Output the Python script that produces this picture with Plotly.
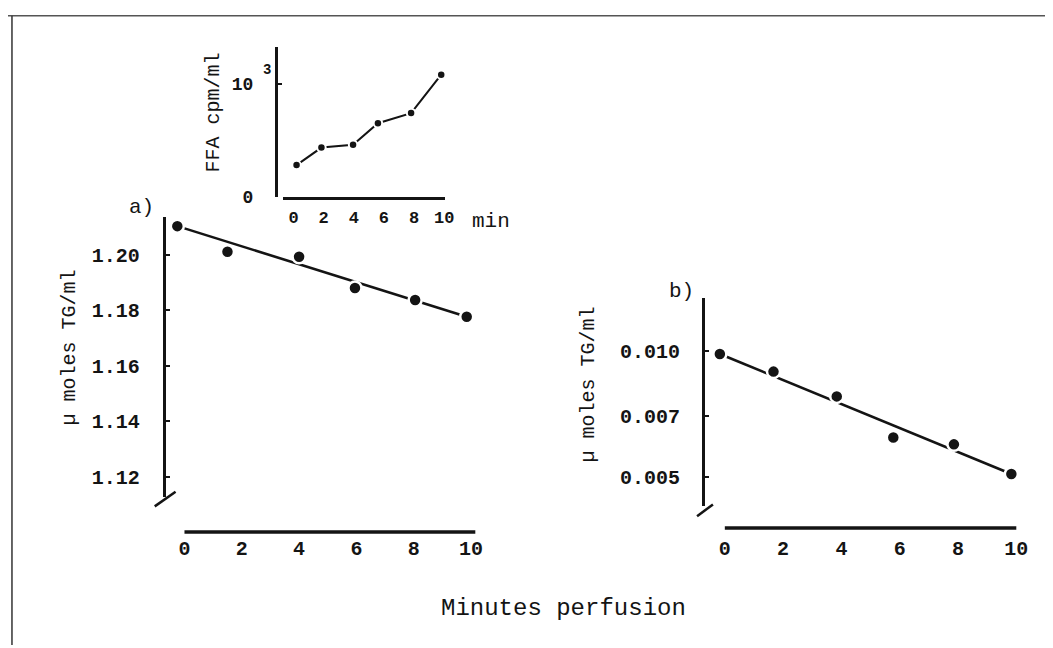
import plotly.graph_objects as go

# ---------------- data ----------------
# panel a) TG (µmoles/ml) vs minutes perfusion
a_minutes = [-0.25, 1.5, 4.0, 5.95, 8.05, 9.85]
a_tg = [1.2103, 1.2011, 1.1993, 1.1880, 1.1837, 1.1777]
a_fit_minutes = [-0.25, 9.85]
a_fit_tg = [1.2103, 1.1777]
a_yticks = [1.12, 1.14, 1.16, 1.18, 1.20]

# panel b) TG (µmoles/ml) vs minutes perfusion (log scale)
b_minutes = [-0.17, 1.67, 3.84, 5.78, 7.86, 9.83]
b_tg = [0.00984, 0.00893, 0.00779, 0.00621, 0.00598, 0.00508]
b_fit_minutes = [-0.17, 9.83]
b_fit_tg = [0.00984, 0.00508]
b_yticks = [0.005, 0.007, 0.010]

# inset: FFA cpm/ml (x10^3) vs min
ffa_minutes = [0.2, 1.85, 3.95, 5.6, 7.8, 9.8]
ffa_cpm = [2.8, 4.35, 4.6, 6.5, 7.4, 10.8]
ffa_yticks = [0, 10]

xticks = [0, 2, 4, 6, 8, 10]

# ---------------- geometry helpers ----------------
W, H = 1053, 648
def px(x):
    return x / W
def py(y):
    return 1 - y / H

def xrange_for(dom0, dom1, p0, p10):
    k = (p10 - p0) / 10.0
    return [-(p0 - dom0) / k, 10 + (dom1 - p10) / k]

INK = "#141414"
MONO = "Liberation Mono"
tick_font = dict(family=MONO, size=20, color=INK, weight="bold")

fig = go.Figure()

# panel a
fig.add_trace(go.Scatter(x=a_fit_minutes, y=a_fit_tg, mode="lines",
                         line=dict(color=INK, width=2.6), xaxis="x", yaxis="y",
                         showlegend=False, hoverinfo="skip"))
fig.add_trace(go.Scatter(x=a_minutes, y=a_tg, mode="markers",
                         marker=dict(color=INK, size=13, line=dict(color="white", width=2.5)),
                         xaxis="x", yaxis="y", showlegend=False, cliponaxis=False))
# panel b
fig.add_trace(go.Scatter(x=b_fit_minutes, y=b_fit_tg, mode="lines",
                         line=dict(color=INK, width=2.6), xaxis="x2", yaxis="y2",
                         showlegend=False, hoverinfo="skip"))
fig.add_trace(go.Scatter(x=b_minutes, y=b_tg, mode="markers",
                         marker=dict(color=INK, size=13, line=dict(color="white", width=2.5)),
                         xaxis="x2", yaxis="y2", showlegend=False, cliponaxis=False))
# inset
fig.add_trace(go.Scatter(x=ffa_minutes, y=ffa_cpm, mode="lines+markers",
                         line=dict(color=INK, width=2),
                         marker=dict(color=INK, size=8.5, line=dict(color="white", width=2)),
                         xaxis="x3", yaxis="y3", showlegend=False, cliponaxis=False))

# axis pixel layout
A_DOM = (158, 482); A_P0, A_P10 = 178, 467
B_DOM = (705, 1030); B_P0, B_P10 = 723, 1017
I_DOM = (277, 441); I_P0, I_P10 = 288, 440

a_lo = 1.12 - (497 - 477) / 2825.0
a_hi = 1.20 + (251 - 213) / 2825.0
b_k = 425.0
b_lo = -2 - (507 - 349) / b_k
b_hi = -2 + (349 - 295) / b_k

common_x = dict(showgrid=False, zeroline=False, showline=False, ticks="",
                tickvals=xticks, tickfont=tick_font, fixedrange=True)

fig.update_layout(
    width=W, height=H,
    margin=dict(l=0, r=0, t=0, b=0),
    paper_bgcolor="white", plot_bgcolor="rgba(0,0,0,0)",
    xaxis=dict(common_x, domain=[px(A_DOM[0]), px(A_DOM[1])],
               range=xrange_for(A_DOM[0], A_DOM[1], A_P0, A_P10),
               anchor="free", position=py(533), ticklabelstandoff=2),
    yaxis=dict(domain=[py(497), py(213)], range=[a_lo, a_hi],
               anchor="free", position=px(157), showline=True, linewidth=3, linecolor=INK,
               ticks="inside", ticklen=4, tickwidth=2, tickcolor=INK,
               tickvals=a_yticks, tickformat=".2f", tickfont=tick_font,
               ticklabelstandoff=19, showgrid=False, zeroline=False),
    xaxis2=dict(common_x, domain=[px(B_DOM[0]), px(B_DOM[1])],
                range=xrange_for(B_DOM[0], B_DOM[1], B_P0, B_P10),
                anchor="free", position=py(529), ticklabelstandoff=6),
    yaxis2=dict(type="log", domain=[py(507), py(295)], range=[b_lo, b_hi],
                anchor="free", position=px(701), showline=True, linewidth=3, linecolor=INK,
                ticks="inside", ticklen=4, tickwidth=2, tickcolor=INK,
                tickvals=b_yticks, ticktext=[f"{v:.3f}" for v in b_yticks], tickfont=tick_font,
                ticklabelstandoff=18, showgrid=False, zeroline=False),
    xaxis3=dict(domain=[px(I_DOM[0]), px(I_DOM[1])],
                range=xrange_for(I_DOM[0], I_DOM[1], I_P0, I_P10),
                anchor="y3", showline=True, linewidth=2.5, linecolor=INK, ticks="",
                tickvals=xticks, tickfont=dict(family=MONO, size=17, color=INK, weight="bold"),
                ticklabelstandoff=3, showgrid=False, zeroline=False),
    yaxis3=dict(domain=[py(192), py(40)], range=[0, (192 - 40) / 11.5],
                anchor="free", position=px(270), showline=True, linewidth=2.5, linecolor=INK,
                ticks="inside", ticklen=5, tickwidth=2, tickcolor=INK,
                tickvals=ffa_yticks, tickfont=dict(family=MONO, size=18, color=INK, weight="bold"),
                ticklabelstandoff=18, showgrid=False, zeroline=False),
)

shapes = []
# x axis lines for a and b
shapes.append(dict(type="line", xref="x", yref="paper", x0=0, x1=10.15, y0=py(533), y1=py(533),
                   line=dict(color=INK, width=3.5)))
shapes.append(dict(type="line", xref="x2", yref="paper", x0=0, x1=10, y0=py(529), y1=py(529),
                   line=dict(color=INK, width=3.5)))
# axis break strokes
shapes.append(dict(type="line", xref="paper", yref="paper", x0=px(148), x1=px(169),
                   y0=py(507), y1=py(492), line=dict(color=INK, width=2.5)))
shapes.append(dict(type="line", xref="paper", yref="paper", x0=px(695), x1=px(711),
                   y0=py(517), y1=py(505), line=dict(color=INK, width=2.5)))
# page border (scan frame)
shapes.append(dict(type="line", xref="paper", yref="paper", x0=0, x1=1, y0=py(8), y1=py(8),
                   line=dict(color="#555", width=1.5)))
shapes.append(dict(type="line", xref="paper", yref="paper", x0=px(4), x1=px(4), y0=py(8), y1=0,
                   line=dict(color="#333", width=1.5)))
fig.update_layout(shapes=shapes)

title_font = dict(family=MONO, size=20, color=INK)
ann = [
    dict(text="a)", x=px(135), y=py(203), font=dict(family=MONO, size=21, color=INK)),
    dict(text="b)", x=px(679), y=py(288), font=dict(family=MONO, size=21, color=INK)),
    dict(text="min", x=px(487), y=py(217), font=dict(family=MONO, size=21, color=INK)),
    dict(text="3", x=px(261), y=py(63), font=dict(family=MONO, size=14, color=INK, weight="bold")),
    dict(text="FFA cpm/ml", x=px(207), y=py(106), textangle=-90, font=title_font),
    dict(text="\u00b5 moles TG/ml", x=px(62), y=py(345), textangle=-90, font=title_font),
    dict(text="\u00b5 moles TG/ml", x=px(585), y=py(383), textangle=-90, font=title_font),
    dict(text="Minutes perfusion", x=px(560), y=py(611), font=dict(family=MONO, size=24, color=INK)),
]
for a in ann:
    a.update(xref="paper", yref="paper", showarrow=False, xanchor="center", yanchor="middle")
fig.update_layout(annotations=ann)

fig.write_html("out.html")
